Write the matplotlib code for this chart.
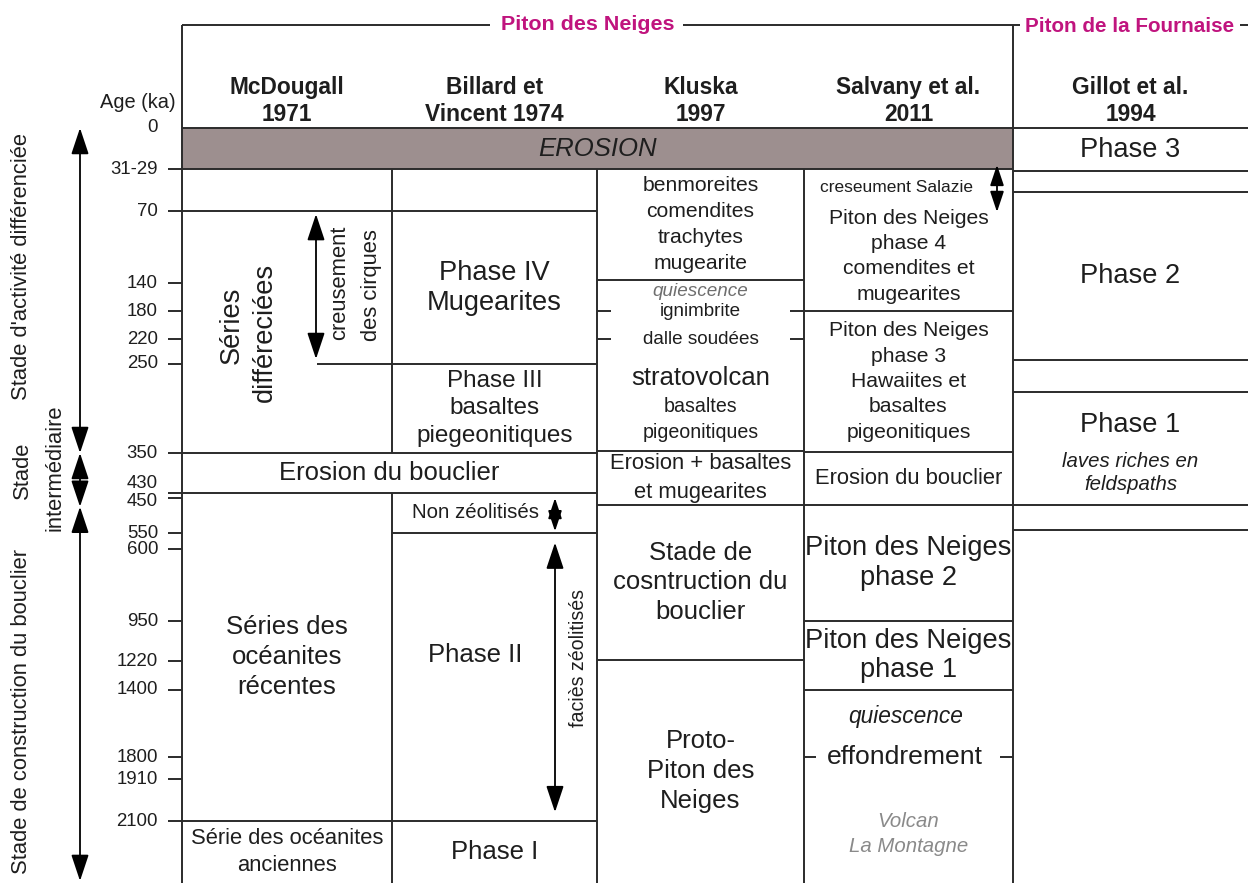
import numpy as np
import matplotlib
matplotlib.use('Agg')
import matplotlib.pyplot as plt

plt.rcParams['font.family'] = ['Liberation Sans', 'DejaVu Sans']

# age axis (ka); the last value is only the bottom of the sheet
age_ticks = [0, 30, 70, 140, 180, 220, 250, 350, 430, 450, 550, 600, 950, 1220, 1400, 1800, 1910, 2100, 2400]
age_labels = ['0', '31-29', '70', '140', '180', '220', '250', '350', '430', '450', '550', '600',
              '950', '1220', '1400', '1800', '1910', '2100', '']
# where each tick age sits on the sheet (the scale is not linear)
tick_y = [128, 169, 211, 283, 311, 339, 364, 453, 493, 498, 533, 549, 621, 661, 690, 757, 779, 821, 883]

col_names = ['McDougall\n1971', 'Billard et\nVincent 1974', 'Kluska\n1997', 'Salvany et al.\n2011', 'Gillot et al.\n1994']
col_x = [182, 392, 597, 804, 1013, 1248]

# horizontal limits inside each column (ka)
mcd_bounds = [70, 350, 430, 2100]
billard_bounds = [70, 250, 350, 430, 550, 2100]
kluska_bounds = [137, 348, 470, 1210]
salvany_bounds = [180, 349, 470, 950, 1400]
gillot_bounds = [32, 52, 245, 282, 470, 540]

# cells: (top ka, bottom ka, text)
mcd_cells = [(430, 2100, 'Séries des\nocéanites\nrécentes'),
             (2100, 2400, 'Série des océanites\nanciennes')]
billard_cells = [(70, 250, 'Phase IV\nMugearites'),
                 (250, 350, 'Phase III\nbasaltes\npiegeonitiques'),
                 (2100, 2400, 'Phase I')]
kluska_cells = [(30, 137, 'benmoreites\ncomendites\ntrachytes\nmugearite'),
                (348, 470, 'Erosion + basaltes\net mugearites'),
                (470, 1210, 'Stade de\ncosntruction du\nbouclier'),
                (1210, 2400, 'Proto-\nPiton des\nNeiges')]
salvany_cells = [(180, 349, 'Piton des Neiges\nphase 3\nHawaiites et\nbasaltes\npigeonitiques'),
                 (349, 470, 'Erosion du bouclier'),
                 (470, 950, 'Piton des Neiges\nphase 2'),
                 (950, 1400, 'Piton des Neiges\nphase 1')]
gillot_cells = [(0, 32, 'Phase 3'),
                (52, 245, 'Phase 2')]

# font size and line spacing for each cell text
cell_fmt = {
    'Séries des\nocéanites\nrécentes': (17, 1.34),
    'Série des océanites\nanciennes': (14.5, 1.36),
    'Phase IV\nMugearites': (18, 1.2),
    'Phase III\nbasaltes\npiegeonitiques': (16, 1.3),
    'Phase I': (17, 1.0),
    'benmoreites\ncomendites\ntrachytes\nmugearite': (14, 1.45),
    'Erosion + basaltes\net mugearites': (14.5, 1.5),
    'Stade de\ncosntruction du\nbouclier': (17, 1.3),
    'Proto-\nPiton des\nNeiges': (17, 1.32),
    'Piton des Neiges\nphase 3\nHawaiites et\nbasaltes\npigeonitiques': (14, 1.42),
    'Erosion du bouclier': (14.5, 1.0),
    'Piton des Neiges\nphase 2': (18, 1.2),
    'Piton des Neiges\nphase 1': (18, 1.15),
    'Phase 3': (18, 1.0),
    'Phase 2': (18, 1.0),
}

LC = '#2b2b2b'
TC = '#1e1e1e'
PURPLE = '#c0147e'
K = 1.09  # text a bit wider like the original


def Y(age):
    return float(np.interp(age, age_ticks, tick_y))


fig = plt.figure(figsize=(12.48, 8.83), dpi=100)
ax = fig.add_axes([0, 0, 1, 1])
ax.set_xlim(0, 1248)
ax.set_ylim(883, 0)
ax.axis('off')


def hline(y, x0, x1, lw=1.4):
    ax.plot([x0, x1], [y, y], color=LC, lw=lw, solid_capstyle='butt')


def vline(x, y0, y1, lw=1.4):
    ax.plot([x, x], [y0, y1], color=LC, lw=lw, solid_capstyle='butt')


def txt(x, y, s, size, ls=1.0, **kw):
    kw.setdefault('color', TC)
    ax.text(x, y, s, fontsize=size * K, ha='center', va='center',
            multialignment='center', linespacing=ls, **kw)


def arrow(x, y0, y1, scale=18):
    ax.annotate('', xy=(x, y1), xytext=(x, y0),
                arrowprops=dict(arrowstyle='<|-|>,head_length=0.9,head_width=0.3',
                                color='black', lw=1.3, shrinkA=0, shrinkB=0,
                                mutation_scale=scale))


# frame and header
top = 25
hline(top, col_x[0], 490)
hline(top, 683, col_x[4])
hline(top, col_x[4], 1020)
hline(top, 1240, 1248)
txt(588, top, 'Piton des Neiges', 14.2, color=PURPLE, fontweight='bold')
txt(1130, 27, 'Piton de la Fournaise', 13.6, color=PURPLE, fontweight='bold')
vline(col_x[0], top, 883)
vline(col_x[4], top, 883)
hline(Y(0), col_x[0], col_x[5])
for i, name in enumerate(col_names):
    txt((col_x[i] + col_x[i + 1]) / 2, 101, name, 15, ls=1.22, fontweight='bold')
txt(138, 103, 'Age (ka)', 13.2)

# erosion band
ax.fill_between([col_x[0], col_x[4]], Y(0), Y(30), color='#9d8f8f', lw=0)
hline(Y(30), col_x[0], col_x[4])
txt((col_x[0] + col_x[4]) / 2, (Y(0) + Y(30)) / 2, 'EROSION', 17, style='italic')

# age ticks
nudge = {'430': -9, '450': 3}
for a, lab, y in zip(age_ticks, age_labels, tick_y):
    if not lab:
        continue
    if a > 0:
        hline(y, 168, col_x[0])
    ax.text(158, y + nudge.get(lab, 0), lab, fontsize=12.3 * K, ha='right', va='center', color=TC)

# column verticals
vline(col_x[1], Y(30), Y(350))
vline(col_x[1], Y(430), 883)
vline(col_x[2], Y(30), 883)
vline(col_x[3], Y(30), 883)

# horizontal limits
for i, bounds in enumerate([mcd_bounds, billard_bounds, kluska_bounds, salvany_bounds, gillot_bounds]):
    for b in bounds:
        hline(Y(b), col_x[i], col_x[i + 1])

# cell texts
for i, cells in enumerate([mcd_cells, billard_cells, kluska_cells, salvany_cells, gillot_cells]):
    xc = (col_x[i] + col_x[i + 1]) / 2
    for a0, a1, s in cells:
        size, ls = cell_fmt[s]
        txt(xc, (Y(a0) + Y(a1)) / 2, s, size, ls=ls)

# McDougall / Billard details
txt((col_x[0] + col_x[2]) / 2, (Y(350) + Y(430)) / 2, 'Erosion du bouclier', 17)
txt(232, Y(200), 'Séries', 18, rotation=90)
txt(265, Y(210), 'différeciées', 18, rotation=90)
arrow(316, Y(73), Y(244))
hline(Y(250), 317, col_x[1])
txt(340, Y(140), 'creusement', 14.5, rotation=90)
txt(371, Y(143), 'des cirques', 14.5, rotation=90)
txt(475, (Y(430) + Y(550)) / 2, 'Non zéolitisés', 13.5)
arrow(555, Y(450), Y(545), scale=14)
txt(475, Y(1180), 'Phase II', 17)
arrow(555, Y(580), Y(2060))
txt(578, Y(1200), 'faciès zéolitisés', 13, rotation=90)

# Kluska details
kx = (col_x[2] + col_x[3]) / 2
txt(kx, Y(152), 'quiescence', 12.5, style='italic', color='#6e6e6e')
for a, s in [(180, 'ignimbrite'), (220, 'dalle soudées')]:
    txt(kx, Y(a), s, 12.5)
    hline(Y(a), col_x[2], col_x[2] + 14)
    hline(Y(a), col_x[3] - 14, col_x[3])
txt(kx, Y(266), 'stratovolcan', 17)
txt(kx, Y(298), 'basaltes', 13)
txt(kx, Y(327), 'pigeonitiques', 13)

# Salvany details
sx = (col_x[3] + col_x[4]) / 2
txt(897, Y(48), 'creseument Salazie', 11.5)
arrow(997, Y(27), Y(71), scale=14)
txt(sx, Y(114), 'Piton des Neiges\nphase 4\ncomendites et\nmugearites', 14, ls=1.42)
txt(sx - 3, Y(1560), 'quiescence', 15, style='italic')
txt(sx - 4, Y(1800), 'effondrement', 17.5)
hline(Y(1800), col_x[3], col_x[3] + 12)
hline(Y(1800), col_x[4] - 13, col_x[4])
txt(sx, Y(2163), 'Volcan\nLa Montagne', 13.5, ls=1.36, style='italic', color='#8a8a8a')

# Gillot details
gx = (col_x[4] + col_x[5]) / 2
txt(gx, Y(319), 'Phase 1', 18)
txt(gx, Y(390), 'laves riches en\nfeldspaths', 13.5, ls=1.27, style='italic')

# stages on the left
arrow(80, Y(0), Y(350))
arrow(80, Y(350), Y(475))
arrow(80, Y(475), Y(2390))
txt(22, Y(124), "Stade d'activité différenciée", 14.5, rotation=90)
txt(22, Y(384), 'Stade', 14.5, rotation=90)
txt(55, Y(380), 'intermédiaire', 14.5, rotation=90)
txt(22, Y(1531), 'Stade de construction du bouclier', 14.5, rotation=90)

fig.savefig('out.png', dpi=100, facecolor='white')
